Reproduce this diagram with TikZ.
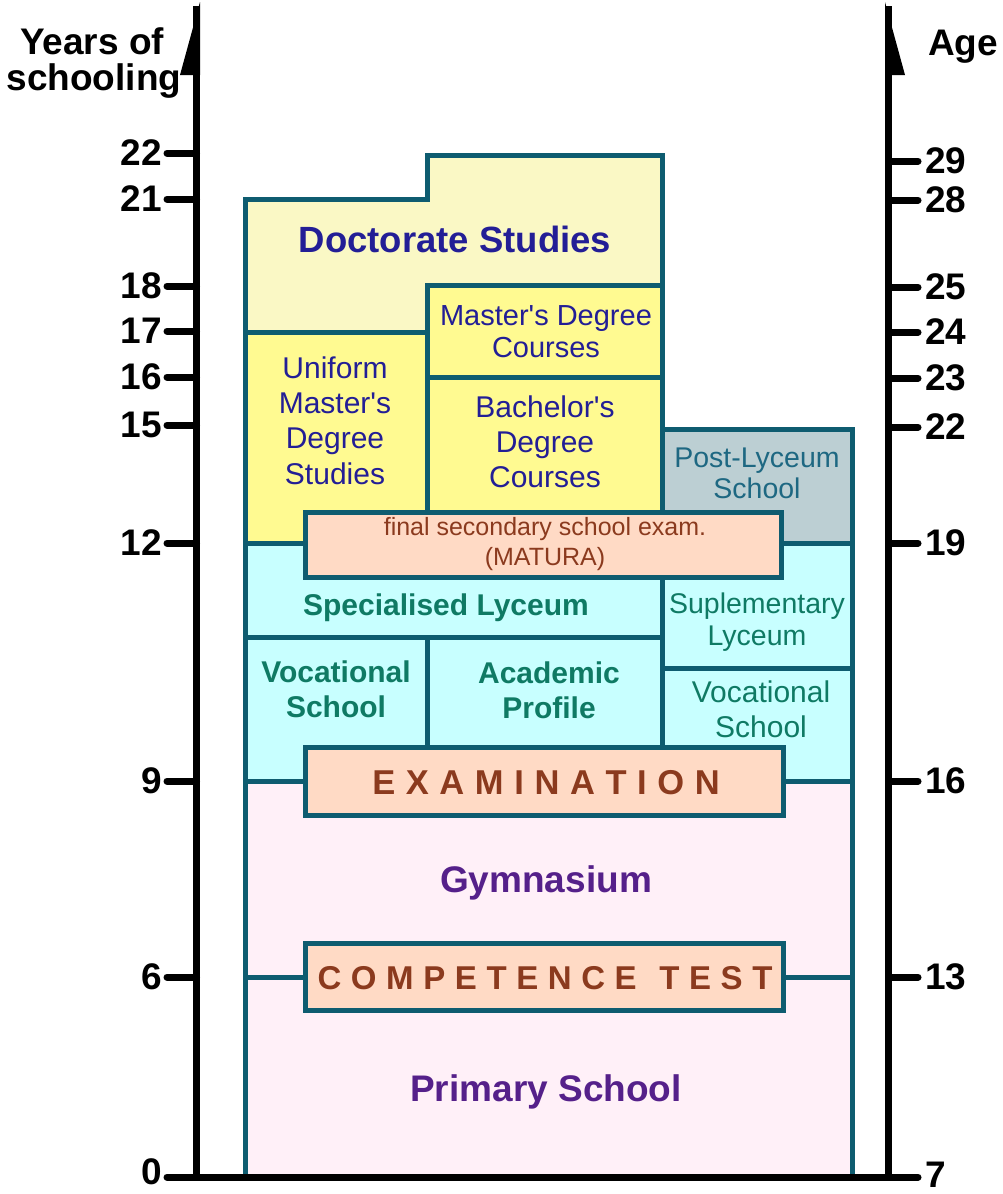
\documentclass[tikz,border=0pt]{standalone}
\usepackage{fontspec}
\setmainfont{Liberation Sans}[Ligatures=TeXOff]

\definecolor{frame}{RGB}{14,92,112}
\definecolor{doctfill}{RGB}{250,248,197}
\definecolor{yellowfill}{RGB}{255,250,145}
\definecolor{postfill}{RGB}{188,207,211}
\definecolor{cyanfill}{RGB}{200,255,255}
\definecolor{peachfill}{RGB}{255,218,197}
\definecolor{pinkfill}{RGB}{255,240,248}
\definecolor{navytext}{RGB}{35,30,150}
\definecolor{bluetext}{RGB}{30,104,130}
\definecolor{tealtext}{RGB}{15,122,100}
\definecolor{browntext}{RGB}{139,58,30}
\definecolor{purpletext}{RGB}{85,32,138}

\newcommand\fsz[2]{\fontsize{#1}{#2}\selectfont}
\newcommand\gapA{\kern10.6pt}
\newcommand\gapB{\kern9.6pt}

\begin{document}
\begin{tikzpicture}[x=1pt,y=-1pt,line join=miter,
  box/.style={draw=frame,line width=5pt},
  axisline/.style={line width=7pt,draw=black},
  tickline/.style={line width=7pt,draw=black,line cap=round},
  lbl/.style={inner sep=0pt,font=\bfseries\fsz{37}{37}},
  txt/.style={inner sep=0pt,align=center}]
\useasboundingbox (0,0) rectangle (1002,1194);

% higher education
\path[box,fill=doctfill] (245,332) -- (245,199) -- (427,199) -- (427,155)
  -- (662,155) -- (662,332) -- cycle;
\path[box,fill=yellowfill] (245,332) rectangle (427,543);
\path[box,fill=yellowfill] (427,285) rectangle (662,377);
\path[box,fill=yellowfill] (427,377) rectangle (662,543);
\path[box,fill=postfill] (662,429) rectangle (852,543);

% secondary schools
\path[box,fill=cyanfill] (245,543) rectangle (662,637);
\path[box,fill=cyanfill] (662,543) rectangle (852,668);
\path[box,fill=cyanfill] (245,637) rectangle (427,781);
\path[box,fill=cyanfill] (427,637) rectangle (662,781);
\path[box,fill=cyanfill] (662,668) rectangle (852,781);

% gymnasium and primary school
\path[box,fill=pinkfill] (245,781) rectangle (852,1177);
\draw[box] (245,977) -- (852,977);

% examinations
\path[box,fill=peachfill] (305,512) rectangle (781,577);
\path[box,fill=peachfill] (305,747) rectangle (783,815);
\path[box,fill=peachfill] (305,943) rectangle (783,1010);

% labels inside the boxes (multi-line nodes are placed by their last baseline)
\node[txt,anchor=base,text=navytext,font=\bfseries\fsz{36.5}{36.5}] (doct) at (455,252) {Doctorate Studies};
\node[txt,anchor=base,text=navytext,font=\fsz{29}{32}] (mast) at (546,357) {Master's Degree\\Courses};
\node[txt,anchor=base,text=navytext,font=\fsz{30}{35.3}] (unif) at (335,484) {Uniform\\Master's\\Degree\\Studies};
\node[txt,anchor=base,text=navytext,font=\fsz{30}{35}] (bach) at (545,487) {Bachelor's\\Degree\\Courses};
\node[txt,anchor=base,text=bluetext,font=\fsz{28.5}{31}] (post) at (757,498) {Post-Lyceum\\School};
\node[txt,anchor=base,text=browntext,font=\fsz{25}{30}] (matura) at (545,565) {final secondary school exam.\\(MATURA)};
\node[txt,anchor=base,text=tealtext,font=\bfseries\fsz{30}{35}] (spec) at (446,615) {Specialised Lyceum};
\node[txt,anchor=base,text=tealtext,font=\fsz{28.5}{32}] (supl) at (757,645) {Suplementary\\Lyceum};
\node[txt,anchor=base,text=tealtext,font=\bfseries\fsz{30}{35}] (vocl) at (336,717) {Vocational\\School};
\node[txt,anchor=base,text=tealtext,font=\bfseries\fsz{30}{35}] (acad) at (549,718) {Academic\\Profile};
\node[txt,anchor=base,text=tealtext,font=\fsz{30}{35}] (vocr) at (761,737) {Vocational\\School};
\node[txt,anchor=base,text=browntext,font=\bfseries\fsz{34.5}{35}] (exam) at (546,794)
  {E\gapA X\gapA A\gapA M\gapA I\gapA N\gapA A\gapA T\gapA I\gapA O\gapA N};
\node[txt,anchor=base,text=purpletext,font=\bfseries\fsz{37}{37}] (gymn) at (546,892) {Gymnasium};
\node[txt,anchor=base,text=browntext,font=\bfseries\fsz{33}{35}] (comp) at (545,989)
  {C\gapB O\gapB M\gapB P\gapB E\gapB T\gapB E\gapB N\gapB C\gapB E\gapB\kern13pt\relax T\gapB E\gapB S\gapB T};
\node[txt,anchor=base,text=purpletext,font=\bfseries\fsz{37}{37}] (prim) at (546,1101) {Primary School};

% axes
\coordinate (ltop) at (196.5,6);
\coordinate (lbot) at (196.5,1177);
\coordinate (rtop) at (888.5,6);
\coordinate (rbot) at (888.5,1177);
\coordinate (bl) at (167,1177);
\coordinate (br) at (918,1177);
\draw[axisline] (lbot) -- (ltop);
\draw[axisline] (rbot) -- (rtop);
\fill[black] (200,2) -- (180,75) -- (200,75) -- cycle;
\fill[black] (885,2) -- (905,75) -- (885,75) -- cycle;
\draw[tickline] (bl) -- (br);

% years of schooling
\node[lbl,anchor=base] (ytitle1) at (92,54) {Years of};
\node[lbl,anchor=base] (ytitle2) at (94,90) {schooling};
\foreach \v/\y in {22/153,21/199,18/286,17/331,16/377,15/425,12/543,9/781,6/977} {
  \draw[tickline] (167,\y) -- (196.5,\y);
  \node[lbl,anchor=east] (y\v) at (162,\y) {\v};
}
\node[lbl,anchor=east] (y0) at (162,1172) {0};

% age
\node[lbl,anchor=base west] (atitle) at (928,55) {Age};
\foreach \v/\y in {29/161,28/200,25/287,24/332,23/378,22/427,19/543,16/781,13/977} {
  \draw[tickline] (888.5,\y) -- (918,\y);
  \node[lbl,anchor=west] (a\v) at (925,\y) {\v};
}
\node[lbl,anchor=west] (a7) at (925,1175) {7};
\end{tikzpicture}
\end{document}
